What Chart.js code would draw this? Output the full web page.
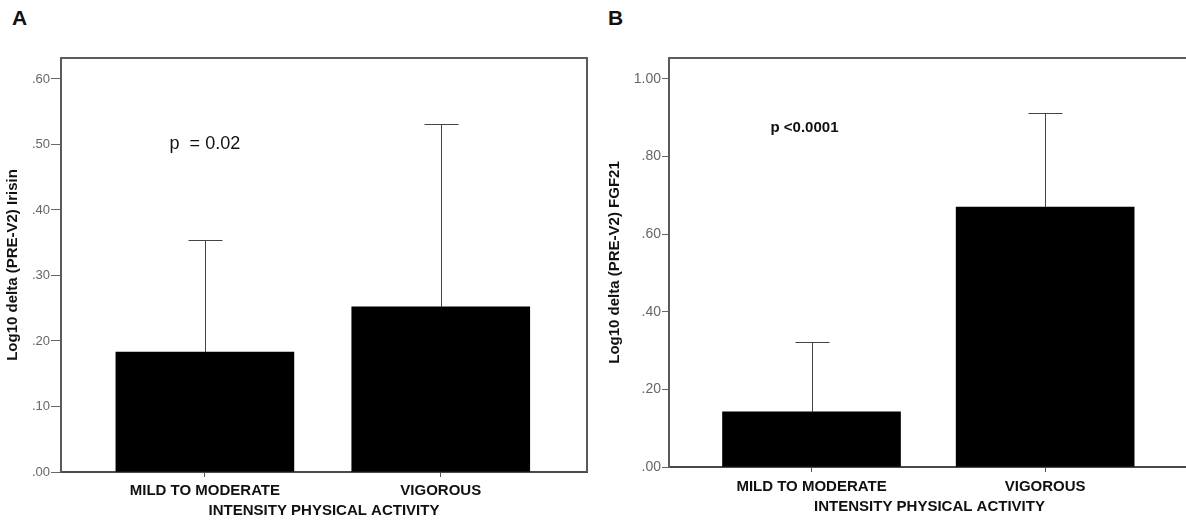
<!DOCTYPE html>
<html>
<head>
<meta charset="utf-8">
<script src="https://cdn.jsdelivr.net/npm/chart.js@4/dist/chart.umd.min.js"></script>
<style>
    html, body { margin: 0; padding: 0; background: #fff; overflow: hidden; }
    #wrap { position: relative; width: 1186px; height: 523px; overflow: hidden; }
    canvas { position: absolute; top: 0; }
    #chartA { left: 0; }
    #chartB { left: 600px; }
    .letter { position: absolute; top: 6px; font: bold 21px "Liberation Sans", Arial, sans-serif; color: #111; }
</style>
</head>
<body>
<div id="wrap">
    <div class="letter" style="left: 12px;">A</div>
    <div class="letter" style="left: 608px;">B</div>
    <canvas id="chartA" width="600" height="523"></canvas>
    <canvas id="chartB" width="620" height="523"></canvas>
</div>
<script>
// categories and x positions
const categories = ['MILD TO MODERATE', 'VIGOROUS'];
const categoryPos = [0, 1];

// panel A - irisin (mean and upper error bar)
const irisinMean = [0.183, 0.252];
const irisinUpper = [0.354, 0.531];
const irisinTicks = [0, 0.1, 0.2, 0.3, 0.4, 0.5, 0.6];
const irisinTickLabels = ['.00', '.10', '.20', '.30', '.40', '.50', '.60'];

// panel B - FGF21
const fgf21Mean = [0.142, 0.670];
const fgf21Upper = [0.322, 0.912];
const fgf21Ticks = [0, 0.2, 0.4, 0.6, 0.8, 1.0];
const fgf21TickLabels = ['.00', '.20', '.40', '.60', '.80', '1.00'];

const FONT = '"Liberation Sans", Arial, sans-serif';

// upper error bars + frame + p-value text
const extrasPlugin = {
    id: 'extras',
    afterDatasetsDraw(chart, args, opts) {
        const ctx = chart.ctx;
        const xs = chart.scales.x;
        const ys = chart.scales.y;
        const area = chart.chartArea;
        ctx.save();
        ctx.strokeStyle = '#444';
        ctx.lineWidth = 1;
        opts.upper.forEach((u, i) => {
            let x = Math.round(xs.getPixelForValue(categoryPos[i])) + 0.5;
            let yBar = ys.getPixelForValue(opts.mean[i]);
            let yTop = Math.round(ys.getPixelForValue(u)) + 0.5;
            ctx.beginPath();
            ctx.moveTo(x, yBar);
            ctx.lineTo(x, yTop);
            ctx.moveTo(x - 17, yTop);
            ctx.lineTo(x + 17, yTop);
            ctx.stroke();
        });
        // top and right frame
        ctx.strokeStyle = '#5a5a5a';
        ctx.lineWidth = 2;
        ctx.beginPath();
        ctx.moveTo(area.left, area.top);
        ctx.lineTo(area.right, area.top);
        ctx.lineTo(area.right, area.bottom);
        ctx.stroke();
        // p-value
        ctx.fillStyle = '#111';
        ctx.font = opts.pFont;
        ctx.textAlign = 'center';
        ctx.textBaseline = 'middle';
        ctx.fillText(opts.pText, xs.getPixelForValue(opts.pAt[0]), ys.getPixelForValue(opts.pAt[1]));
        ctx.restore();
    }
};

function makeChart(id, cfg) {
    let ctx = document.getElementById(id).getContext('2d');
    return new Chart(ctx, {
        type: 'bar',
        data: {
            datasets: [{
                data: categoryPos.map((x, i) => ({ x: x, y: cfg.mean[i] })),
                backgroundColor: '#000',
                borderWidth: 0,
                barThickness: 178,
                grouped: false
            }]
        },
        options: {
            responsive: false,
            animation: false,
            layout: { padding: { left: 0, top: 58, right: cfg.rightPad, bottom: 0 } },
            plugins: {
                legend: { display: false },
                tooltip: { enabled: false },
                extras: { mean: cfg.mean, upper: cfg.upper, pText: cfg.pText, pFont: cfg.pFont, pAt: cfg.pAt }
            },
            scales: {
                x: {
                    type: 'linear',
                    min: -0.61,
                    max: 1.62,
                    offset: false,
                    afterBuildTicks: (scale) => { scale.ticks = categoryPos.map(v => ({ value: v })); },
                    afterFit: (scale) => { scale.height = cfg.xHeight; },
                    grid: { offset: false, drawOnChartArea: false, drawTicks: true, tickLength: 5, color: '#555', lineWidth: 1 },
                    border: { display: true, color: '#4a4a4a', width: 2 },
                    ticks: {
                        callback: (v) => categories[categoryPos.indexOf(v)],
                        color: '#111',
                        font: { family: FONT, size: 15, weight: 'bold' },
                        padding: cfg.xTickPad,
                        maxRotation: 0,
                        autoSkip: false
                    },
                    title: {
                        display: true,
                        text: 'INTENSITY PHYSICAL ACTIVITY',
                        color: '#111',
                        font: { family: FONT, size: 15, weight: 'bold' },
                        padding: { top: 0, bottom: cfg.xTitlePad }
                    }
                },
                y: {
                    min: 0,
                    max: cfg.yMax,
                    afterBuildTicks: (scale) => { scale.ticks = cfg.yTicks.map(v => ({ value: v })); },
                    afterFit: (scale) => { scale.width = cfg.yWidth; },
                    grid: { drawOnChartArea: false, drawTicks: true, tickLength: cfg.yTickLen, color: '#666', lineWidth: 1 },
                    border: { display: true, color: '#5a5a5a', width: 2 },
                    ticks: {
                        callback: (v) => cfg.yTickLabels[cfg.yTicks.indexOf(v)],
                        color: '#666',
                        font: { family: FONT, size: cfg.yTickSize },
                        padding: 1
                    },
                    title: {
                        display: true,
                        text: cfg.yTitle,
                        color: '#111',
                        font: { family: FONT, size: 15, weight: 'bold' },
                        padding: { top: cfg.yTitlePad, bottom: 0 }
                    }
                }
            }
        },
        plugins: [extrasPlugin]
    });
}

makeChart('chartA', {
    mean: irisinMean, upper: irisinUpper, yTicks: irisinTicks, yTickLabels: irisinTickLabels,
    yMax: 0.632, yTitle: 'Log10 delta (PRE-V2) Irisin', yWidth: 61, yTitlePad: 4, yTickLen: 10, yTickSize: 13,
    xHeight: 51, xTickPad: 5, xTitlePad: 3, rightPad: 13,
    pText: 'p  = 0.02', pFont: '18px ' + FONT, pAt: [0, 0.5]
});

makeChart('chartB', {
    mean: fgf21Mean, upper: fgf21Upper, yTicks: fgf21Ticks, yTickLabels: fgf21TickLabels,
    yMax: 1.054, yTitle: 'Log10 delta (PRE-V2) FGF21', yWidth: 69, yTitlePad: 6, yTickLen: 7, yTickSize: 14,
    xHeight: 56, xTickPad: 6, xTitlePad: 7, rightPad: 30,
    pText: 'p <0.0001', pFont: 'bold 15px ' + FONT, pAt: [-0.03, 0.875]
});
</script>
</body>
</html>
